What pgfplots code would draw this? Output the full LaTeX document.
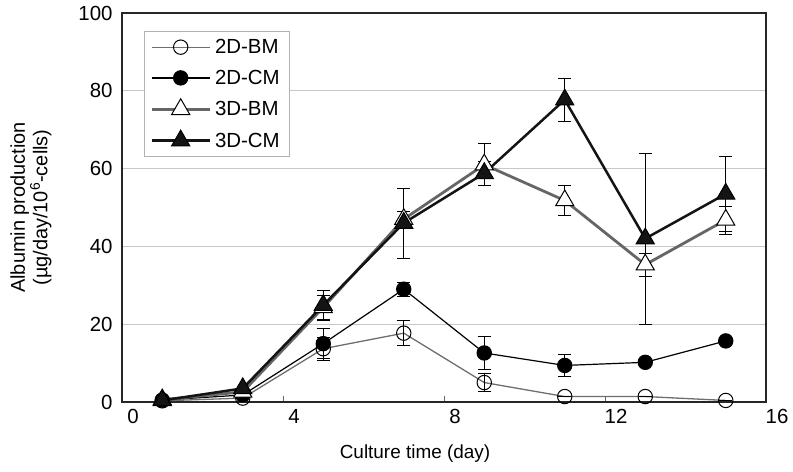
\documentclass[border=0pt]{standalone}
\usepackage{fontspec}
\setmainfont{Liberation Sans}
\usepackage{pgfplots}
\usepackage{pgfplotstable}
\pgfplotsset{compat=1.18}
\definecolor{lgray}{HTML}{6E6E6E}
\definecolor{tgray}{HTML}{666666}

\pgfplotstableread{
x y e
1 0.3 0
3 1.0 0
5 13.7 3.0
7 17.7 3.2
9 5.0 2.3
11 1.4 0
13 1.4 0
15 0.4 0
}\tdbm
\pgfplotstableread{
x y e
1 0.5 0
3 1.8 0
5 15.0 3.8
7 29.0 1.8
9 12.6 4.2
11 9.4 2.8
13 10.2 0
15 15.7 0.9
}\tdcm
\pgfplotstableread{
x y e
1 0.6 0
3 2.6 0
5 24.3 3.0
7 47.0 2.0
9 61.0 5.4
11 51.8 3.8
13 35.3 3.0
15 46.8 3.6
}\thbm
\pgfplotstableread{
x y e
1 0.4 0
3 3.5 0
5 24.9 3.8
7 46.0 9.0
9 58.8 3.0
11 77.7 5.6
13 42.0 22.0
15 53.5 9.6
}\thcm

\begin{document}
\begin{tikzpicture}
\begin{axis}[
  scale only axis, width=644bp, height=389bp,
  xmin=0, xmax=16, ymin=0, ymax=100,
  xtick={0,4,8,12,16}, ytick={0,20,40,60,80,100},
  ymajorgrids, grid style={black!22, line width=0.8bp},
  axis line style={line width=1.2bp, black!85},
  tick pos=left, tick align=inside,
  major tick length=6bp,
  xtick style={black!60, line width=0.8bp},
  ytick style={draw=none},
  /pgf/number format/assume math mode=true,
  xticklabel style={xshift=11bp, yshift=-4bp, font=\fontsize{20.5}{24}\selectfont},
  yticklabel style={xshift=-6bp, font=\fontsize{20.5}{24}\selectfont},
  xlabel={Culture time (day)},
  xlabel style={at={(axis description cs:0.455,0)}, anchor=center, yshift=-52bp, font=\fontsize{19}{22}\selectfont},
  ylabel={Albumin production\\(µg/day/10\textsuperscript{6}-cells)},
  ylabel style={at={(axis description cs:0,0.5)}, anchor=center, yshift=91bp, align=center, font=\fontsize{20}{22.5}\selectfont},
  clip=false,
  legend style={at={(axis description cs:0.034,0.954)}, anchor=north west,
    draw=black!30, line width=0.8bp, font=\fontsize{20.5}{24}\selectfont,
    row sep=11bp, inner xsep=6bp, inner ysep=6bp,
    nodes={inner xsep=4bp}},
  legend cell align=left,
  legend image code/.code={\draw[mark repeat=2,mark phase=2] plot coordinates {(0bp,0bp) (29bp,0bp) (58bp,0bp)};},
  error bars/error bar style={black, line width=0.8bp},
  error bars/error mark options={black, rotate=90, mark size=6.5bp, line width=0.8bp},
]
\addplot[lgray, line width=1.3bp, mark=o, mark size=7.2bp,
  mark options={draw=black, fill=white, line width=1bp},
  error bars/.cd, y dir=both, y explicit]
  table[x=x, y=y, y error=e] {\tdbm};
\addlegendentry{2D-BM}
\addplot[black, line width=1.2bp, mark=*, mark size=7.2bp,
  mark options={draw=black, fill=black, line width=1bp},
  error bars/.cd, y dir=both, y explicit]
  table[x=x, y=y, y error=e] {\tdcm};
\addlegendentry{2D-CM}
\addplot[tgray, line width=2.8bp, mark=triangle*, mark size=10.5bp,
  mark options={draw=black, fill=white, line width=1bp},
  error bars/.cd, y dir=both, y explicit]
  table[x=x, y=y, y error=e] {\thbm};
\addlegendentry{3D-BM}
\addplot[black!92, line width=2.5bp, mark=triangle*, mark size=10.5bp,
  mark options={draw=black, fill=black!92, line width=1bp},
  error bars/.cd, y dir=both, y explicit]
  table[x=x, y=y, y error=e] {\thcm};
\addlegendentry{3D-CM}
\end{axis}
\path ([shift={(-122bp,-70bp)}]current axis.south west) rectangle ([shift={(27bp,13bp)}]current axis.north east);
\end{tikzpicture}
\end{document}
